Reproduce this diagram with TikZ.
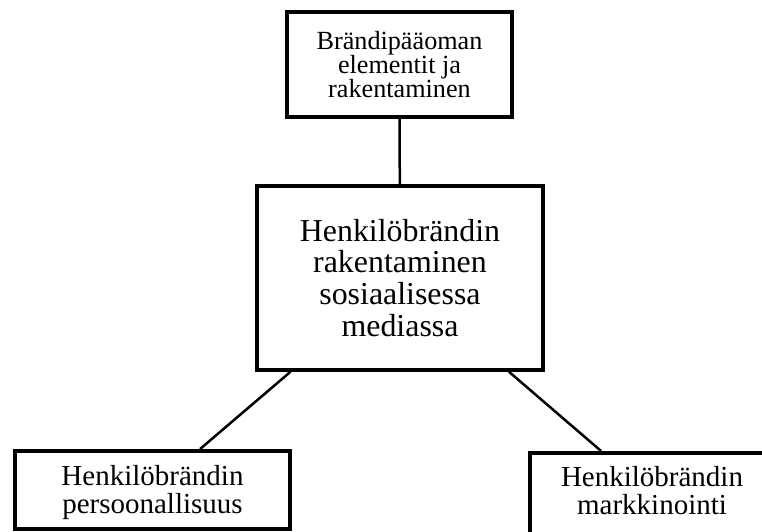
\documentclass[tikz,border=0pt]{standalone}
\usepackage{fontspec}
\setmainfont{Liberation Serif}
\begin{document}
\begin{tikzpicture}[x=1pt,y=1pt,
    box/.style={draw,line width=4pt,align=center,inner sep=0pt},
    topbox/.style={box,minimum width=225pt,minimum height=105pt,
      font=\fontsize{26.2}{24.2}\selectfont},
    midbox/.style={box,minimum width=286pt,minimum height=184pt,
      font=\fontsize{31.9}{31.7}\selectfont},
    leafbox/.style={box,minimum width=275pt,minimum height=77.5pt,
      font=\fontsize{29}{28}\selectfont,text depth=0pt},
    link/.style={line width=2.5pt}]
    \useasboundingbox (0,0) rectangle (762,-531);
    \clip (0,0) rectangle (762,-531);
    \node[topbox] (elem) at (399.5,-64.5) {Brändipääoman\\elementit ja\\rakentaminen};
    \node[midbox] (mid) at (400,-277.8) {Henkilöbrändin\\rakentaminen\\sosiaalisessa\\mediassa};
    \node[leafbox] (pers) at (152.5,-489.75) {Henkilöbrändin\\persoonallisuus};
    \node[leafbox,minimum width=245pt,minimum height=84pt,text depth=9.8pt] (markk) at (652,-495) {Henkilöbrändin\\markkinointi};
    \draw[link] (elem) -- (mid);
    \draw[link] (mid) -- (pers);
    \draw[link] (mid) -- (markk);
\end{tikzpicture}
\end{document}
